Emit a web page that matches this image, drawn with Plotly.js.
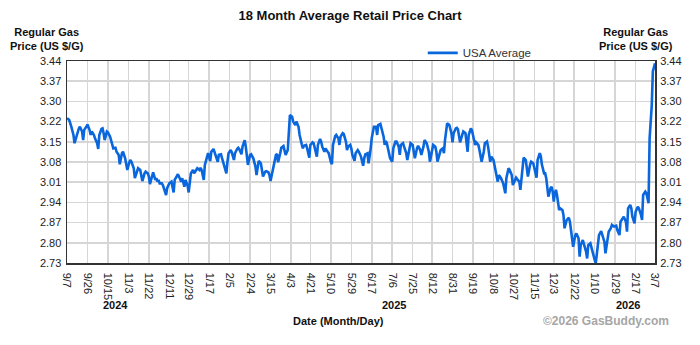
<!DOCTYPE html>
<html>
<head>
<meta charset="utf-8">
<script src="https://cdn.plot.ly/plotly-3.0.1.min.js"></script>
<style>html,body{margin:0;padding:0;background:#fff}#chart{width:700px;height:345px}</style>
</head>
<body>
<div id="chart"></div>
<script>
// ---- data ----
const seriesName = 'USA Average';
const dates = [
'2024-09-07','2024-09-09','2024-09-11','2024-09-13','2024-09-14','2024-09-16','2024-09-18','2024-09-19','2024-09-21','2024-09-22','2024-09-23','2024-09-25','2024-09-26','2024-09-28','2024-09-29','2024-09-30',
'2024-10-02','2024-10-03','2024-10-05','2024-10-06','2024-10-07','2024-10-09','2024-10-10','2024-10-11','2024-10-12','2024-10-14','2024-10-15','2024-10-17','2024-10-19','2024-10-20','2024-10-22','2024-10-23','2024-10-25','2024-10-26','2024-10-28','2024-10-29','2024-10-31',
'2024-11-01','2024-11-02','2024-11-04','2024-11-05','2024-11-06','2024-11-08','2024-11-09','2024-11-11','2024-11-12','2024-11-14','2024-11-15','2024-11-16','2024-11-18','2024-11-19','2024-11-21','2024-11-22','2024-11-23','2024-11-25','2024-11-26','2024-11-28','2024-11-29','2024-11-30',
'2024-12-01','2024-12-02','2024-12-04','2024-12-05','2024-12-07','2024-12-08','2024-12-09','2024-12-11','2024-12-13','2024-12-14','2024-12-15','2024-12-16','2024-12-18','2024-12-19','2024-12-21','2024-12-22','2024-12-23','2024-12-24','2024-12-25','2024-12-26','2024-12-28','2024-12-29','2024-12-30','2024-12-31',
'2025-01-02','2025-01-03','2025-01-05','2025-01-06','2025-01-08','2025-01-09','2025-01-10','2025-01-12','2025-01-13','2025-01-15','2025-01-16','2025-01-18','2025-01-19','2025-01-21','2025-01-22','2025-01-24','2025-01-25','2025-01-26','2025-01-28','2025-01-29','2025-01-31',
'2025-02-02','2025-02-03','2025-02-04','2025-02-06','2025-02-07','2025-02-09','2025-02-10','2025-02-12','2025-02-13','2025-02-14','2025-02-15','2025-02-16','2025-02-17','2025-02-19','2025-02-20','2025-02-21','2025-02-22','2025-02-24','2025-02-25','2025-02-27',
'2025-03-01','2025-03-02','2025-03-03','2025-03-04','2025-03-06','2025-03-07','2025-03-08','2025-03-10','2025-03-11','2025-03-13','2025-03-14','2025-03-15','2025-03-17','2025-03-18','2025-03-20','2025-03-21','2025-03-22','2025-03-24','2025-03-25','2025-03-27','2025-03-28','2025-03-29','2025-03-31',
'2025-04-01','2025-04-02','2025-04-04','2025-04-05','2025-04-07','2025-04-08','2025-04-10','2025-04-11','2025-04-13','2025-04-14','2025-04-15','2025-04-17','2025-04-18','2025-04-20','2025-04-21','2025-04-23','2025-04-24','2025-04-25','2025-04-27','2025-04-28','2025-04-30',
'2025-05-01','2025-05-02','2025-05-04','2025-05-05','2025-05-07','2025-05-08','2025-05-10','2025-05-11','2025-05-12','2025-05-14','2025-05-15','2025-05-17','2025-05-18','2025-05-19','2025-05-21','2025-05-22','2025-05-24','2025-05-25','2025-05-26','2025-05-28','2025-05-29','2025-05-30',
'2025-06-01','2025-06-02','2025-06-04','2025-06-05','2025-06-07','2025-06-09','2025-06-10','2025-06-11','2025-06-13','2025-06-14','2025-06-16','2025-06-17','2025-06-19','2025-06-21','2025-06-22','2025-06-23','2025-06-25','2025-06-26','2025-06-28','2025-06-29','2025-06-30',
'2025-07-01','2025-07-03','2025-07-04','2025-07-06','2025-07-07','2025-07-09','2025-07-10','2025-07-12','2025-07-13','2025-07-14','2025-07-16','2025-07-17','2025-07-19','2025-07-20','2025-07-22','2025-07-23','2025-07-25','2025-07-26','2025-07-27','2025-07-29','2025-07-30',
'2025-08-01','2025-08-02','2025-08-04','2025-08-05','2025-08-07','2025-08-09','2025-08-10','2025-08-12','2025-08-13','2025-08-15','2025-08-16','2025-08-17','2025-08-19','2025-08-20','2025-08-22','2025-08-23','2025-08-24','2025-08-25','2025-08-26','2025-08-28','2025-08-30','2025-08-31',
'2025-09-01','2025-09-03','2025-09-04','2025-09-05','2025-09-06','2025-09-07','2025-09-09','2025-09-10','2025-09-12','2025-09-13','2025-09-14','2025-09-15','2025-09-17','2025-09-18','2025-09-20','2025-09-21','2025-09-22','2025-09-24','2025-09-25','2025-09-27','2025-09-29','2025-09-30',
'2025-10-02','2025-10-03','2025-10-05','2025-10-06','2025-10-08','2025-10-09','2025-10-11','2025-10-12','2025-10-13','2025-10-15','2025-10-17','2025-10-18','2025-10-19','2025-10-20','2025-10-22','2025-10-23','2025-10-25','2025-10-26','2025-10-28','2025-10-29','2025-10-30',
'2025-11-01','2025-11-02','2025-11-04','2025-11-05','2025-11-07','2025-11-08','2025-11-09','2025-11-11','2025-11-12','2025-11-14','2025-11-15','2025-11-17','2025-11-18','2025-11-20','2025-11-21','2025-11-22','2025-11-24','2025-11-25','2025-11-26','2025-11-27','2025-11-28','2025-11-30',
'2025-12-01','2025-12-02','2025-12-03','2025-12-04','2025-12-05','2025-12-06','2025-12-07','2025-12-08','2025-12-09','2025-12-11','2025-12-12','2025-12-13','2025-12-15','2025-12-17','2025-12-18','2025-12-20','2025-12-21','2025-12-23','2025-12-24','2025-12-26','2025-12-27','2025-12-28','2025-12-30','2025-12-31',
'2026-01-02','2026-01-03','2026-01-04','2026-01-06','2026-01-07','2026-01-09','2026-01-10','2026-01-11','2026-01-13','2026-01-14','2026-01-16','2026-01-17','2026-01-19','2026-01-20','2026-01-22','2026-01-23','2026-01-25','2026-01-26','2026-01-28','2026-01-30','2026-01-31',
'2026-02-02','2026-02-03','2026-02-05','2026-02-06','2026-02-08','2026-02-09','2026-02-10','2026-02-12','2026-02-13','2026-02-14','2026-02-16','2026-02-17','2026-02-19','2026-02-20','2026-02-22','2026-02-23','2026-02-24','2026-02-26','2026-02-27',
'2026-03-01','2026-03-02','2026-03-04','2026-03-05','2026-03-07'
];
const prices = [
3.239,3.233,3.209,3.180,3.151,3.180,3.203,3.209,3.192,3.162,3.198,3.209,3.217,3.197,3.180,3.192,
3.180,3.168,3.151,3.131,3.180,3.201,3.203,3.186,3.162,3.192,3.189,3.174,3.145,3.133,3.135,3.121,3.110,3.077,3.116,3.121,3.098,
3.080,3.057,3.086,3.092,3.084,3.063,3.028,3.057,3.063,3.057,3.039,3.018,3.045,3.051,3.045,3.034,3.007,3.042,3.049,3.022,3.028,3.016,
3.022,3.010,3.010,3.004,2.981,2.969,2.993,3.010,3.016,2.993,2.978,3.022,3.037,3.042,3.025,3.016,3.028,3.010,2.998,3.022,3.001,2.978,3.028,3.045,
3.057,3.045,3.057,3.063,3.057,3.065,3.057,3.022,3.075,3.104,3.116,3.088,3.121,3.131,3.121,3.098,3.086,3.110,3.112,3.098,3.075,
3.045,3.086,3.116,3.127,3.119,3.092,3.116,3.131,3.135,3.130,3.120,3.112,3.139,3.162,3.139,3.104,3.075,3.110,3.112,3.098,
3.069,3.039,3.075,3.089,3.080,3.057,3.034,3.051,3.053,3.049,3.039,3.018,3.051,3.075,3.110,3.113,3.084,3.116,3.135,3.141,3.127,3.110,3.127,
3.203,3.250,3.244,3.227,3.215,3.227,3.209,3.180,3.147,3.133,3.142,3.145,3.133,3.100,3.145,3.154,3.151,3.133,3.104,3.145,3.166,
3.157,3.139,3.121,3.133,3.121,3.116,3.086,3.077,3.145,3.176,3.180,3.168,3.145,3.174,3.186,3.183,3.157,3.127,3.139,3.145,3.133,3.110,
3.089,3.116,3.127,3.121,3.104,3.072,3.098,3.112,3.116,3.080,3.133,3.170,3.209,3.209,3.180,3.215,3.219,3.203,3.174,3.145,3.159,
3.151,3.121,3.098,3.086,3.133,3.157,3.157,3.139,3.110,3.145,3.151,3.139,3.116,3.092,3.139,3.151,3.145,3.121,3.098,3.133,3.142,
3.127,3.110,3.139,3.162,3.151,3.121,3.086,3.127,3.145,3.139,3.121,3.086,3.116,3.127,3.133,3.116,3.162,3.190,3.221,3.215,3.186,3.154,
3.186,3.203,3.205,3.200,3.174,3.154,3.180,3.192,3.186,3.151,3.121,3.180,3.203,3.197,3.168,3.145,3.154,3.145,3.127,3.086,3.121,3.151,
3.157,3.139,3.086,3.104,3.092,3.075,3.039,3.016,3.039,3.028,3.010,2.993,2.975,3.028,3.063,3.057,3.039,3.004,3.022,3.030,3.025,
3.016,2.987,3.075,3.100,3.092,3.063,3.034,3.075,3.086,3.080,3.060,3.030,3.092,3.116,3.104,3.075,3.045,3.045,3.028,2.993,2.963,2.993,
2.998,2.981,2.946,2.975,2.987,2.969,2.940,2.916,2.922,2.916,2.899,2.852,2.881,2.889,2.875,2.823,2.787,2.828,2.834,2.817,2.752,2.793,2.811,2.796,
2.770,2.746,2.793,2.799,2.782,2.758,2.741,2.729,2.805,2.828,2.842,2.828,2.805,2.764,2.817,2.840,2.852,2.864,2.858,2.861,2.846,
2.828,2.875,2.887,2.893,2.875,2.840,2.922,2.934,2.922,2.893,2.869,2.910,2.928,2.922,2.899,2.881,2.969,2.981,2.975,
2.940,3.168,3.285,3.403,3.432
];
const xTickDates = ['2024-09-07','2024-09-26','2024-10-15','2024-11-03','2024-11-22','2024-12-11','2024-12-29','2025-01-17','2025-02-05','2025-02-24','2025-03-15','2025-04-03','2025-04-21','2025-05-10','2025-05-29','2025-06-17','2025-07-06','2025-07-25','2025-08-12','2025-08-31','2025-09-19','2025-10-08','2025-10-27','2025-11-15','2025-12-03','2025-12-22','2026-01-10','2026-01-29','2026-02-17','2026-03-07'];
const xTickLabels = ['9/7','9/26','10/15','11/3','11/22','12/11','12/29','1/17','2/5','2/24','3/15','4/3','4/21','5/10','5/29','6/17','7/6','7/25','8/12','8/31','9/19','10/8','10/27','11/15','12/3','12/22','1/10','1/29','2/17','3/7'];
const yTickLabels = ['2.73','2.80','2.87','2.94','3.01','3.08','3.15','3.22','3.30','3.37','3.44'];
const yearLabels = ['2024','2025','2026'];
const yearPositions = ['2024-10-22','2025-07-08','2026-02-10'];

// ---- chart ----
const yMin = 2.73, yMax = 3.44;
const yTickVals = yTickLabels.map((_, i) => yMin + i * (yMax - yMin) / (yTickLabels.length - 1));
const FONT = 'Arial, "Liberation Sans", sans-serif';
const lineColor = '#0a66dc';

const traces = [
  {x: dates, y: prices, type: 'scatter', mode: 'lines', name: seriesName,
   line: {color: lineColor, width: 2.6}, hoverinfo: 'x+y'},
  {x: dates, y: prices, type: 'scatter', mode: 'lines', yaxis: 'y2', showlegend: false,
   line: {color: 'rgba(0,0,0,0)', width: 0}, hoverinfo: 'skip'}
];

const axisFont = {family: FONT, size: 11, color: '#222'};
const annFont = (size, color) => ({family: FONT, size: size, color: color});
const ann = (text, xref, x, y, font) => ({text: text, xref: xref, yref: 'paper', x: x, y: y,
  xanchor: 'center', yanchor: 'middle', showarrow: false, font: font, align: 'center'});

const layout = {
  width: 700, height: 345,
  margin: {l: 67, r: 45, t: 61, b: 82},
  paper_bgcolor: '#fff', plot_bgcolor: '#fff',
  font: {family: FONT, size: 11, color: '#222'},
  title: {text: '<b>18 Month Average Retail Price Chart</b>', font: {family: FONT, size: 13, color: '#111'},
          x: 0.5, xanchor: 'center', y: 0.955, yref: 'container', yanchor: 'middle'},
  showlegend: true,
  legend: {orientation: 'h', x: 0.605, xanchor: 'left', y: 1.04, yanchor: 'middle',
           bgcolor: 'rgba(0,0,0,0)', font: {family: FONT, size: 11.5, color: '#333'}},
  xaxis: {type: 'date', range: [xTickDates[0], xTickDates[xTickDates.length - 1]],
          tickmode: 'array', tickvals: xTickDates, ticktext: xTickLabels, tickangle: 90,
          tickfont: axisFont, showgrid: true, gridcolor: '#d6d6d6', gridwidth: 1.5,
          showline: true, mirror: true, linecolor: '#333', linewidth: 1.5,
          ticks: 'outside', ticklen: 6, tickcolor: 'rgba(0,0,0,0)', zeroline: false, fixedrange: true},
  yaxis: {range: [yMin, yMax], tickmode: 'array', tickvals: yTickVals, ticktext: yTickLabels,
          tickfont: axisFont, showgrid: true, gridcolor: '#d6d6d6', gridwidth: 1.5,
          showline: true, mirror: true, linecolor: '#333', linewidth: 1.5,
          ticks: 'outside', ticklen: 2, tickcolor: 'rgba(0,0,0,0)', zeroline: false, fixedrange: true},
  yaxis2: {range: [yMin, yMax], overlaying: 'y', side: 'right', tickmode: 'array', tickvals: yTickVals,
           ticktext: yTickLabels, tickfont: axisFont, showgrid: false, showline: false, zeroline: false,
           ticks: 'outside', ticklen: 2, tickcolor: 'rgba(0,0,0,0)', fixedrange: true},
  annotations: [
    ann('<b>Regular Gas<br>Price (US $/G)</b>', 'paper', -0.034, 1.111, annFont(11, '#111')),
    ann('<b>Regular Gas<br>Price (US $/G)</b>', 'paper', 0.968, 1.111, annFont(11, '#111')),
    ann('<b>Date (Month/Day)</b>', 'paper', 0.461, -0.287, annFont(11, '#111')),
    ann('<b>©2026 GasBuddy.com</b>', 'paper', 0.917, -0.287, annFont(12, '#a6a6a6'))
  ].concat(yearLabels.map((t, i) => ann('<b>' + t + '</b>', 'x', yearPositions[i], -0.208, annFont(11, '#111'))))
};

Plotly.newPlot('chart', traces, layout, {staticPlot: true, displayModeBar: false});
</script>
</body>
</html>
